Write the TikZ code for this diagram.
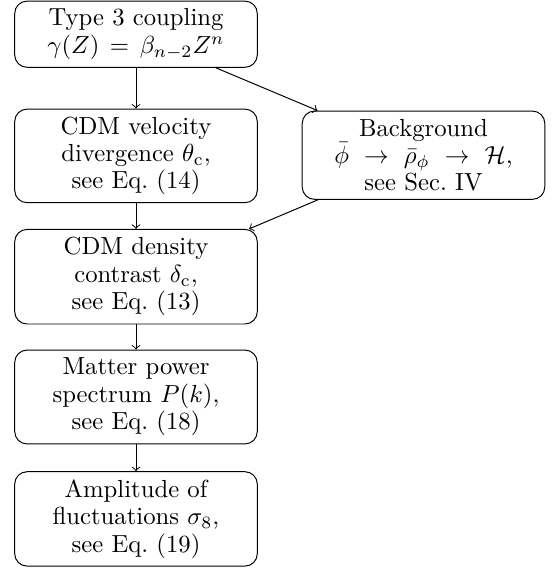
\documentclass[tikz,border=0pt]{standalone}
\usetikzlibrary{arrows}
\begin{document}
\begin{tikzpicture}[x=0.40486pt, y=-0.40486pt,
  box/.style={draw, rounded corners=5pt, align=center, minimum width=98.2pt, inner sep=0pt,
    font=\fontsize{10}{11.1}\selectfont},
  arr/.style={->}]
\useasboundingbox (0,0) rectangle (558,568);
\node[box, minimum height=26.8pt] (top) at (136,34.2) {Type 3 coupling\\$\gamma(Z)\hspace{4.3pt}{=}\hspace{4.3pt}\beta_{n-2}Z^n$};
\node[box, minimum height=37.9pt] (vel) at (136,155.9) {CDM velocity\\divergence $\theta_{\mathrm{c}}$,\\see Eq.~(14)};
\node[box, minimum height=35.75pt] (bg) at (423.5,155.2) {Background\\$\bar{\phi}\ \rightarrow\ \bar{\rho}_{\phi}\ \rightarrow\ \mathcal{H}$,\\see Sec.~IV};
\node[box, minimum height=38.3pt] (dens) at (136,276.7) {CDM density\\contrast $\delta_{\mathrm{c}}$,\\see Eq.~(13)};
\node[box, minimum height=38pt] (mat) at (136,397) {Matter power\\spectrum $P(k)$,\\see Eq.~(18)};
\node[box, minimum height=38.2pt] (amp) at (136,518.9) {Amplitude of\\fluctuations $\sigma_8$,\\see Eq.~(19)};
\draw[arr] (top) -- (vel);
\draw[arr] (top) -- (bg);
\draw[arr] (vel) -- (dens);
\draw[arr] (bg) -- (dens);
\draw[arr] (dens) -- (mat);
\draw[arr] (mat) -- (amp);
\end{tikzpicture}
\end{document}
